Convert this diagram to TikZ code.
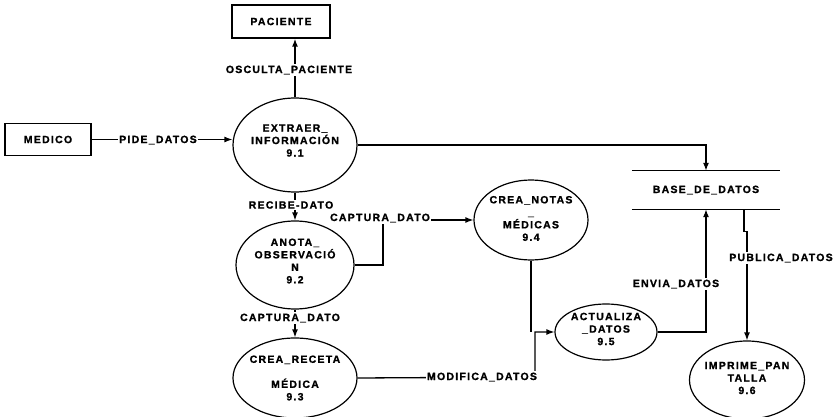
\documentclass[tikz,border=0pt]{standalone}
\usepackage{fontspec}
\setmainfont{Liberation Sans}
\newfontfamily\dfdfont{Liberation Sans}[LetterSpace=12, BoldFeatures={FakeBold=1.2}]
\usetikzlibrary{arrows.meta,shapes.geometric}

\begin{document}
\begin{tikzpicture}[x=1pt,y=-1pt,
  every node/.style={font=\dfdfont\bfseries\fontsize{10.5}{12.5}\selectfont},
  ext/.style={draw, line width=1.3pt, inner sep=0pt},
  proc/.style={draw, ellipse, line width=1.2pt, inner sep=0pt},
  ptext/.style={align=center, inner sep=0pt},
  flow/.style={line width=1.3pt},
  arr/.style={flow, -{Latex[length=8pt,width=6pt]}},
  lbl/.style={fill=white, inner sep=1.5pt}]

\useasboundingbox (0,0) rectangle (839,417);

% external entities
\node[ext, minimum width=98pt, minimum height=33pt] (pac) at (281,21.5) {PACIENTE};
\node[ext, minimum width=86pt, minimum height=32pt] (med) at (48,139.5) {MEDICO};

% processes
\node[proc, minimum width=124pt, minimum height=94pt] (p1) at (295,145) {};
\node[ptext] (p1t) at ([yshift=4.5pt]p1.center) {EXTRAER\_\\INFORMACIÓN\\9.1};

\node[proc, minimum width=118pt, minimum height=88pt] (p2) at (295,265) {};
\node[ptext] (p2t) at ([yshift=4pt]p2.center) {ANOTA\_\\OBSERVACIÓ\\N\\9.2};

\node[proc, minimum width=124pt, minimum height=80pt] (p3) at (295,378) {};
\node[ptext] (p3t) at (p3.center) {CREA\_RECETA\\[12.5pt]MÉDICA\\9.3};

\node[proc, minimum width=114pt, minimum height=80pt] (p4) at (531,220) {};
\node[ptext] (p4t) at ([yshift=1.5pt]p4.center) {CREA\_NOTAS\\\_\\MÉDICAS\\9.4};

\node[proc, minimum width=102pt, minimum height=56pt] (p5) at (606,332) {};
\node[ptext] (p5t) at ([yshift=3pt]p5.center) {ACTUALIZA\\\_DATOS\\9.5};

\node[proc, minimum width=115pt, minimum height=78pt] (p6) at (747,380) {};
\node[ptext] (p6t) at ([yshift=2pt]p6.center) {IMPRIME\_PAN\\TALLA\\9.6};

% data store
\node[minimum width=148pt, minimum height=38pt, inner sep=0pt] (bd) at (706,190) {BASE\_DE\_DATOS};
\draw[flow] (bd.north west) -- (bd.north east) (bd.south west) -- (bd.south east);

% data flows
\draw[arr] (p1.north) -- (p1.north |- pac.south);
\draw[arr] (med.east) -- (med.east -| p1.west);
\draw[arr] (p1.east) -| (bd.north);
\draw[arr] (p1.south) -- (p1.south |- p2.north);
\coordinate (c1) at (383,220);
\draw[arr] (p2.east) -| (c1) -- (p4.west);
\draw[arr] (p2.south) -- (p2.south |- p3.north);
\coordinate (c2) at (535,377);
\draw[arr] (p3.east) -- (c2) |- (p5.west);
\draw[flow] (p4.south) -- (p4.south |- p5.west);
\draw[arr] (p5.east) -| (bd.south);
\draw[arr] ([xshift=38pt]bd.south) -- ++(0,22) -- ++(3,0) -- (p6.north);

% flow labels
\node[lbl] (l1) at (289,70) {OSCULTA\_PACIENTE};
\node[lbl] (l2) at (158,140) {PIDE\_DATOS};
\node[lbl] (l3) at (291,205) {RECIBE-DATO};
\node[lbl] (l4) at (380,218) {CAPTURA\_DATO};
\node[lbl] (l5) at (290,318) {CAPTURA\_DATO};
\node[lbl] (l6) at (482,377) {MODIFICA\_DATOS};
\node[lbl] (l7) at (676,284) {ENVIA\_DATOS};
\node[lbl] (l8) at (781,258) {PUBLICA\_DATOS};
\end{tikzpicture}
\end{document}
